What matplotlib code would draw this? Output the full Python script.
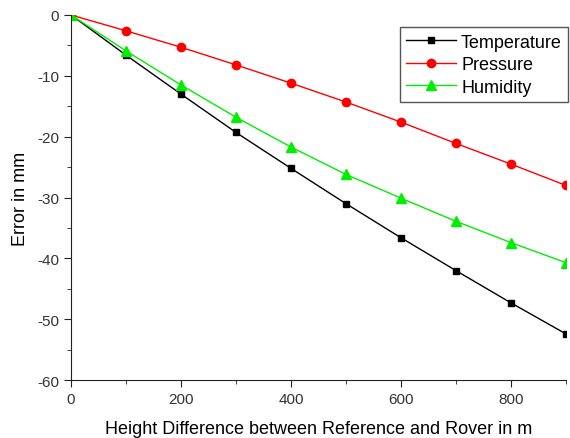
import numpy as np
import matplotlib
matplotlib.use("Agg")
import matplotlib.pyplot as plt
from matplotlib.ticker import MultipleLocator

plt.rcParams['font.family'] = ['Liberation Sans', 'DejaVu Sans']
plt.rcParams['axes.unicode_minus'] = False

height = [0, 100, 200, 300, 400, 500, 600, 700, 800, 900]
temperature = [0, -6.6, -13.0, -19.3, -25.2, -31.0, -36.6, -42.0, -47.3, -52.4]
pressure = [0, -2.6, -5.3, -8.2, -11.2, -14.3, -17.6, -21.1, -24.5, -28.0]
humidity = [0, -5.9, -11.5, -16.8, -21.7, -26.2, -30.1, -33.9, -37.4, -40.7]

fig = plt.figure(figsize=(5.7, 4.39), dpi=100)
ax = fig.add_axes([0.1246, 0.132, 0.868, 0.8316])

ax.plot(height, temperature, color='black', marker='s', markersize=5, lw=1, label='Temperature')
ax.plot(height, pressure, color='red', marker='o', markersize=6, lw=1, label='Pressure')
ax.plot(height, humidity, color='#00ee00', marker='^', markersize=6.5, lw=1, label='Humidity')

ax.set_xlim(0, 900)
ax.set_ylim(-60, 0)
ax.xaxis.set_major_locator(MultipleLocator(200))
ax.xaxis.set_minor_locator(MultipleLocator(100))
ax.yaxis.set_major_locator(MultipleLocator(10))
ax.yaxis.set_minor_locator(MultipleLocator(5))
ax.spines['top'].set_visible(False)
ax.spines['right'].set_visible(False)
ax.spines['left'].set_color('#222222')
ax.spines['bottom'].set_color('#222222')
ax.tick_params(which='major', direction='out', length=5, labelsize=11,
               color='#222222', labelcolor='#333333')
ax.tick_params(which='minor', direction='out', length=3, color='#222222')

ax.set_xlabel('Height Difference between Reference and Rover in m', fontsize=13, labelpad=10)
ax.set_ylabel('Error in mm', fontsize=13, labelpad=6)

leg = ax.legend(loc='upper right', bbox_to_anchor=(1.005, 0.966), fontsize=13,
                fancybox=False, edgecolor='#555555', framealpha=1,
                handlelength=2.75, handletextpad=0.3, labelspacing=0.3,
                borderpad=0.35, borderaxespad=0)
leg.get_frame().set_linewidth(1)

fig.savefig('out.png', dpi=100)
